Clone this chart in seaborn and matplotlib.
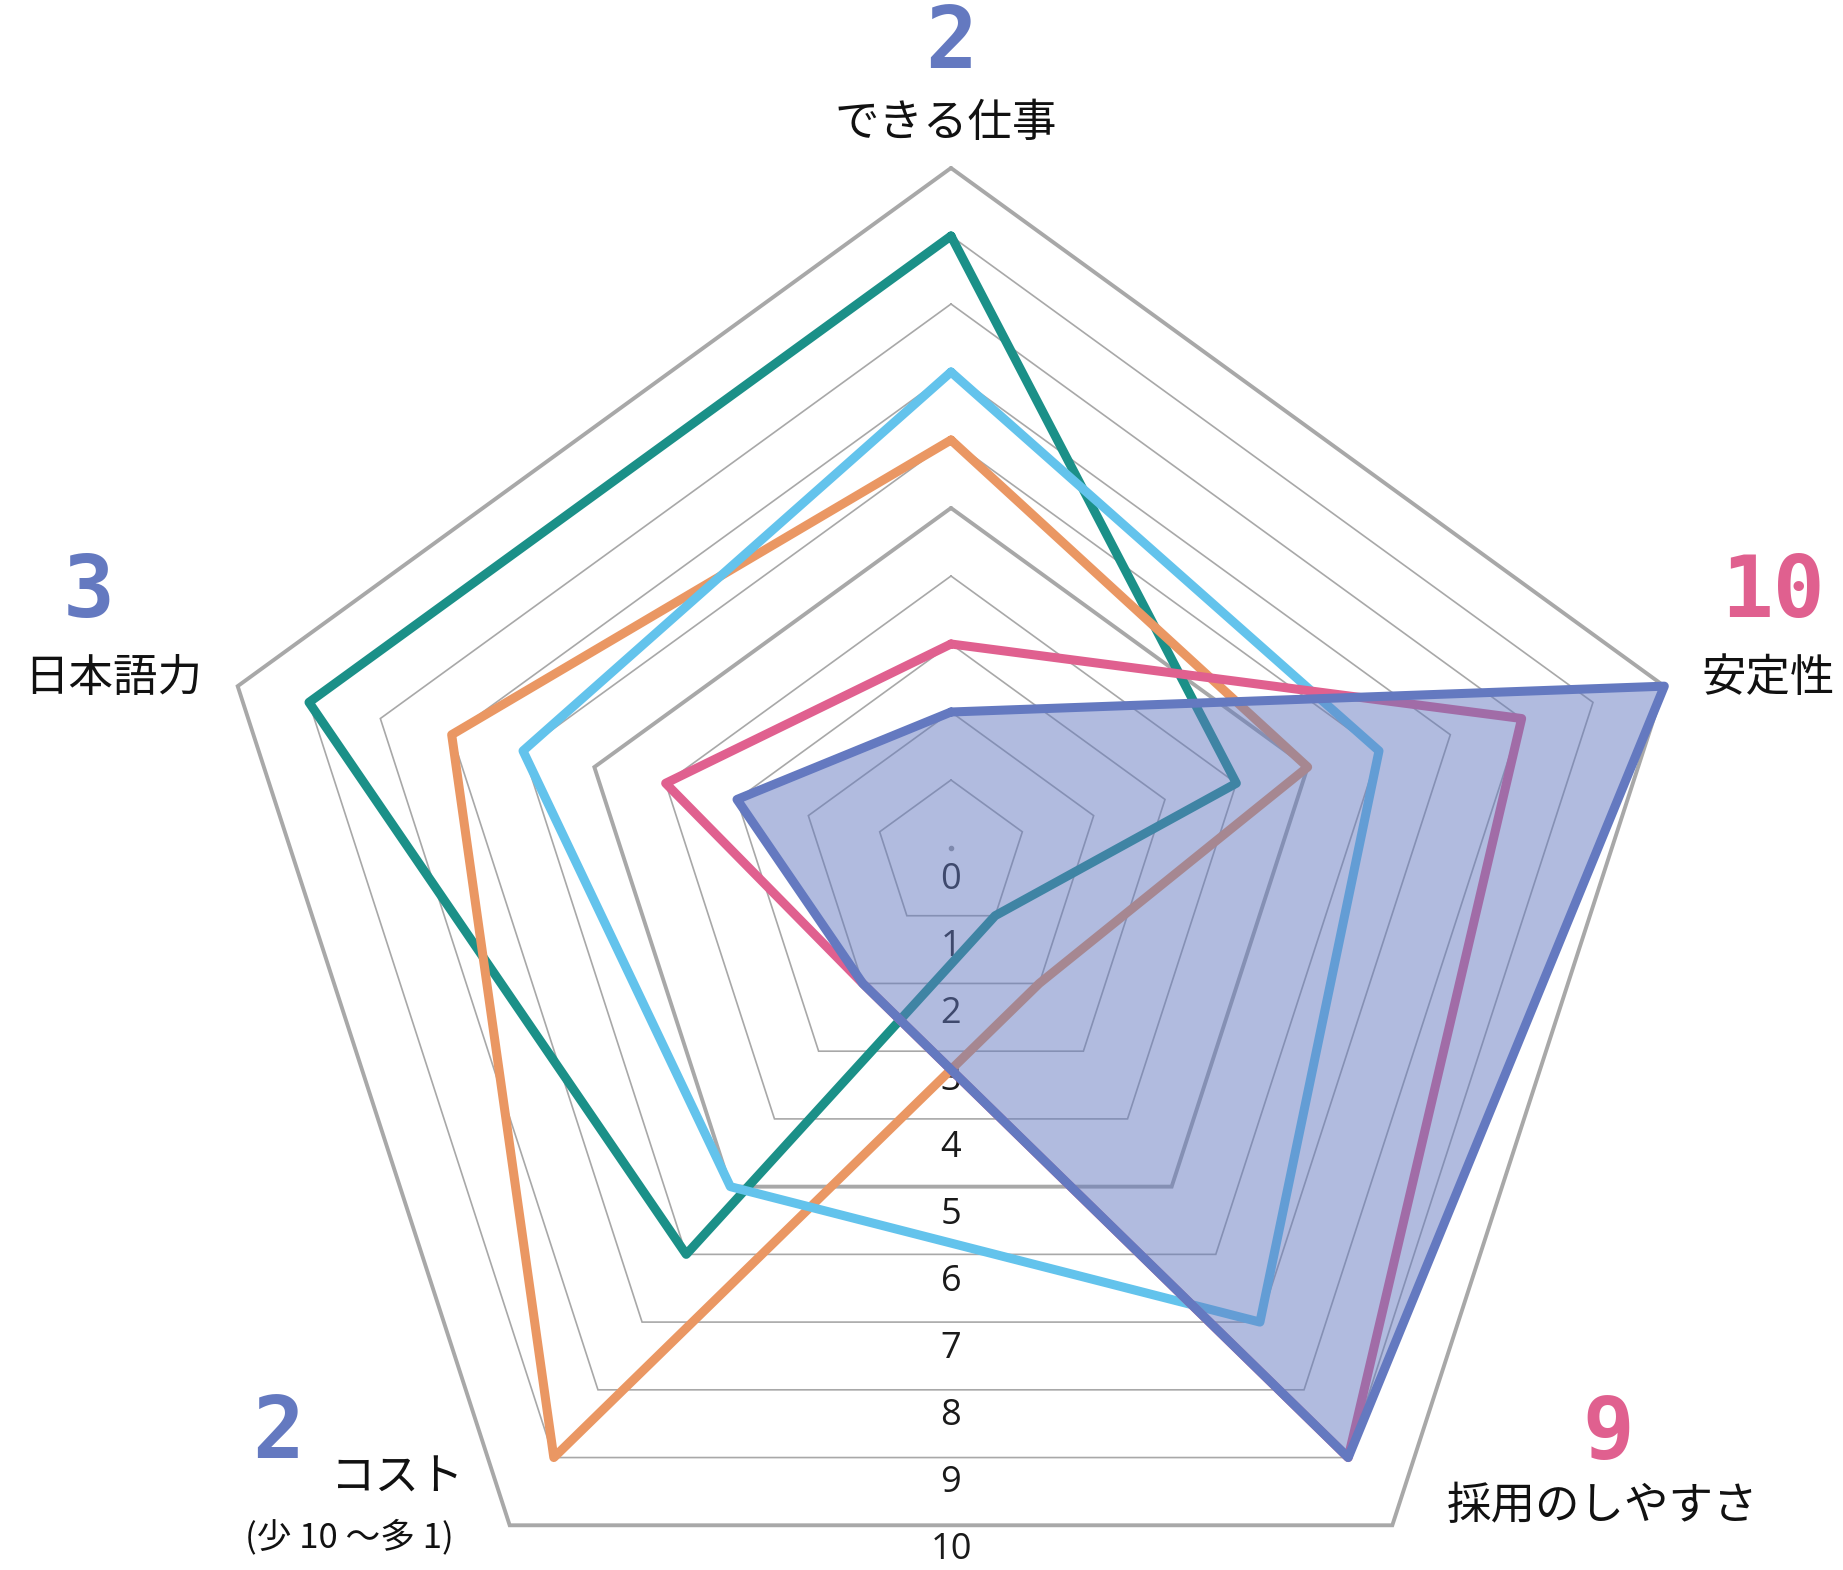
import matplotlib
matplotlib.use("Agg")
import matplotlib.pyplot as plt
import numpy as np
import pandas as pd
import seaborn as sns

# -----------------------------
# Data
# -----------------------------
categories = ["できる仕事", "安定性", "採用のしやすさ", "コスト", "日本語力"]
cost_note = "(少 10 〜多 1)"

teal_vals = [9, 4, 1, 6, 9]
orange_vals = [6, 5, 2, 9, 7]
sky_vals = [7, 6, 7, 5, 6]
pink_vals = [3, 8, 9, 2, 4]
blue_vals = [2, 10, 9, 2, 3]   # highlighted series (numbers shown at each axis)

ticks = list(range(0, 11))

# -----------------------------
# Style / layout
# -----------------------------
colors = {
    "teal": "#1B9088",
    "orange": "#EA9763",
    "sky": "#63C3EC",
    "pink": "#E0608F",
    "blue": "#6479C0",
}
grid_color = "#A8A8A8"

# direction of each spoke (per 1 unit), the pentagon of the original is slightly stretched
axis_dirs = np.array([
    [0.0, 1.0],
    [1.049, 0.238],
    [0.649, -0.996],
    [-0.649, -0.996],
    [-1.049, 0.238],
])

W, H = 1843, 1570
center_px = (951, 848)
unit_px = 68.0

label_pos = [(946, 123), (1768, 678), (1603, 1506), (398, 1478), (113, 678)]
value_pos = [(951, 45), (1773, 593), (1608, 1435), (278, 1434), (89, 593)]
note_pos = (349, 1537)

# -----------------------------
# Build table
# -----------------------------
series = {
    "teal": teal_vals,
    "orange": orange_vals,
    "sky": sky_vals,
    "pink": pink_vals,
    "blue": blue_vals,
}

rows = []
for name, vals in series.items():
    for step, i in enumerate(list(range(len(categories))) + [0]):
        x, y = vals[i] * axis_dirs[i]
        rows.append({"series": name, "step": step, "x": x, "y": y})
df = pd.DataFrame(rows)

# -----------------------------
# Plot
# -----------------------------
sns.set_theme(style="white")
plt.rcParams["font.family"] = ["Noto Sans CJK JP", "DejaVu Sans"]

fig = plt.figure(figsize=(W / 100, H / 100), dpi=100)
ax = fig.add_axes([0, 0, 1, 1])
ax.set_xlim(-center_px[0] / unit_px, (W - center_px[0]) / unit_px)
ax.set_ylim(-(H - center_px[1]) / unit_px, center_px[1] / unit_px)
ax.axis("off")

# grid pentagons
for k in ticks[1:]:
    ring = np.vstack([axis_dirs, axis_dirs[:1]]) * k
    lw = 2.8 if k in (5, 10) else 1.2
    ax.plot(ring[:, 0], ring[:, 1], color=grid_color, lw=lw, zorder=1,
            solid_joinstyle="miter")
ax.plot([0], [0], marker="o", ms=3, color="#9A9A9A", zorder=1)

# scale labels (down the lower side)
for k in ticks:
    ax.text(0, -(0.47 + 0.985 * k), str(k), ha="center", va="center",
            fontsize=26, family=["Open Sans", "DejaVu Sans"], color="#1A1A1A",
            zorder=2)

# other series
others = df[df["series"] != "blue"]
sns.lineplot(
    data=others, x="x", y="y", hue="series",
    hue_order=["teal", "orange", "sky", "pink"],
    palette=colors, sort=False, estimator=None,
    linewidth=6.5, legend=False, ax=ax, zorder=3,
    solid_joinstyle="round",
)

# highlighted series (filled)
blue_df = df[df["series"] == "blue"]
ax.fill(blue_df["x"], blue_df["y"], color=colors["blue"], alpha=0.5, lw=0, zorder=4)
sns.lineplot(
    data=blue_df, x="x", y="y", color=colors["blue"], sort=False,
    estimator=None, linewidth=6.5, legend=False, ax=ax, zorder=5,
    solid_joinstyle="round",
)
ax.set_xlabel("")
ax.set_ylabel("")

# -----------------------------
# Axis labels and values
# -----------------------------
for cat, v, (lx, ly), (vx, vy) in zip(categories, blue_vals, label_pos, value_pos):
    fig.text(lx / W, 1 - ly / H, cat, ha="center", va="center",
             fontsize=32, color="#111111")
    fig.text(vx / W, 1 - vy / H, str(v), ha="center", va="center",
             fontsize=62, fontweight="bold", family="DejaVu Sans Mono",
             color=colors["pink"] if v >= 9 else colors["blue"])

fig.text(note_pos[0] / W, 1 - note_pos[1] / H, cost_note, ha="center",
         va="center", fontsize=25, color="#111111")

plt.savefig("out.png", dpi=100)
plt.close()
